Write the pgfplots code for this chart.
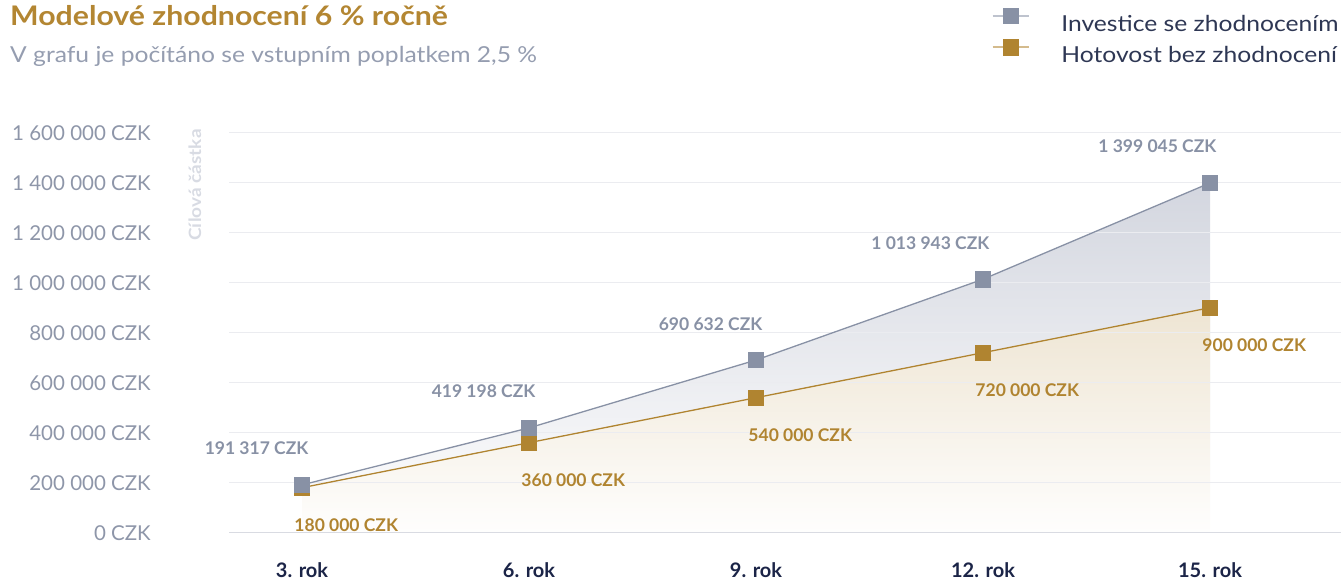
\documentclass[border=0pt]{standalone}
\usepackage{fontspec}
\setmainfont{Lato}
\newfontfamily\widefont[FakeStretch=1.12]{Lato}
\usepackage{pgfplots}
\usepackage{pgfplotstable}
\pgfplotsset{compat=1.18}
\definecolor{gold}{HTML}{B08430}
\definecolor{titlegold}{HTML}{B38632}
\definecolor{graymark}{HTML}{8891A5}
\definecolor{subgray}{HTML}{959DB0}
\definecolor{tickgray}{HTML}{8E96A9}
\definecolor{navy}{HTML}{1B2447}
\definecolor{legtext}{HTML}{2E3754}
\definecolor{gridc}{HTML}{EBECF0}
\definecolor{axisc}{HTML}{D9DBE2}
\definecolor{ylab}{HTML}{D8DBE3}
\definecolor{grayfill}{HTML}{D3D6DF}
\definecolor{goldfill}{HTML}{EEE5D3}
\pgfplotstableread{
x inv cash
0 191317 180000
1 419198 360000
2 690632 540000
3 1013943 720000
4 1399045 900000
}\data
\begin{document}
\begin{tikzpicture}
\begin{axis}[
  set layers,
  at={(229pt,48.3pt)}, anchor=south west,
  scale only axis, width=1112pt, height=400pt,
  xmin=-0.3216, xmax=4.577, ymin=0, ymax=1600000,
  scaled y ticks=false,
  axis line style={draw=none},
  tick style={draw=none},
  xtick={0,1,2,3,4},
  xticklabels={3. rok,6. rok,9. rok,12. rok,15. rok},
  ytick={0,200000,400000,600000,800000,1000000,1200000,1400000,1600000},
  yticklabels={0 CZK,200 000 CZK,400 000 CZK,600 000 CZK,800 000 CZK,1 000 000 CZK,1 200 000 CZK,1 400 000 CZK,1 600 000 CZK},
  ymajorgrids, grid style={color=gridc, line width=1.2pt},
  extra y ticks={0}, extra y tick labels={},
  extra y tick style={grid style={color=axisc, line width=1.4pt}},
  xticklabel style={anchor=base, inner sep=0pt, yshift=-45pt, font=\fontsize{20}{24}\selectfont\bfseries, text=navy},
  yticklabel style={anchor=east, inner sep=0pt, xshift=-78pt, font=\fontsize{20.5}{24}\selectfont, text=tickgray},
  clip=false,
  reverse legend,
  legend cell align=left,
  legend style={at={(0.6862,1.311)}, anchor=north west, draw=none, fill=none,
    inner sep=0pt, outer sep=0pt, row sep=8pt,
    font=\widefont\fontsize{22}{26}\selectfont, text=legtext,
    nodes={inner sep=0pt, text depth=0pt},
    /tikz/every odd column/.style={column sep=32pt}},
  legend image code/.code={
    \draw[#1, draw opacity=0.55, mark=none] (0pt,7.5pt) -- (36pt,7.5pt);
    \draw[#1] plot coordinates {(18pt,7.5pt)};
  },
]
\addplot[on layer=axis background, draw=none, top color=grayfill, bottom color=white, forget plot]
  table[x=x, y=inv] {\data} \closedcycle;
\addplot[on layer=axis background, draw=none, top color=goldfill, bottom color=white!96!goldfill, forget plot]
  table[x=x, y=cash] {\data} \closedcycle;

\addplot[color=gold, line width=1.3pt, mark=square*, mark size=7.6pt,
  mark options={fill=gold, draw=gold, line width=0.3pt},
  nodes near coords, point meta=explicit symbolic,
  nodes near coords style={anchor=base west, xshift=-7.7pt, yshift=-44pt, inner sep=0pt,
    font=\fontsize{17.5}{20}\selectfont\bfseries, text=gold}]
  coordinates {(0,180000) [180 000 CZK] (1,360000) [360 000 CZK] (2,540000) [540 000 CZK] (3,720000) [720 000 CZK] (4,900000) [900 000 CZK]};
\addlegendentry{Hotovost bez zhodnocení}

\addplot[color=graymark, line width=1.3pt, mark=square*, mark size=7.6pt,
  mark options={fill=graymark, draw=graymark, line width=0.3pt},
  nodes near coords, point meta=explicit symbolic,
  nodes near coords style={anchor=base east, xshift=6.5pt, yshift=30pt, inner sep=0pt,
    font=\fontsize{17.5}{20}\selectfont\bfseries, text=graymark}]
  coordinates {(0,191317) [191 317 CZK] (1,419198) [419 198 CZK] (2,690632) [690 632 CZK] (3,1013943) [1 013 943 CZK] (4,1399045) [1 399 045 CZK]};
\addlegendentry{Investice se zhodnocením}
\end{axis}
\node[anchor=base west, inner sep=0pt, font=\widefont\fontsize{27}{30}\selectfont\bfseries, text=titlegold] at (10pt,555pt) {Modelové zhodnocení 6 \% ročně};
\node[anchor=base west, inner sep=0pt, font=\widefont\fontsize{22}{26}\selectfont, text=subgray] at (10pt,518pt) {V grafu je počítáno se vstupním poplatkem 2,5 \%};
\node[rotate=90, inner sep=0pt, font=\widefont\fontsize{17}{20}\selectfont\bfseries, text=ylab] at (195pt,396pt) {Cílová částka};
\pgfresetboundingbox
\path[use as bounding box] (0pt,0pt) rectangle (1341pt,581pt);
\end{tikzpicture}
\end{document}
